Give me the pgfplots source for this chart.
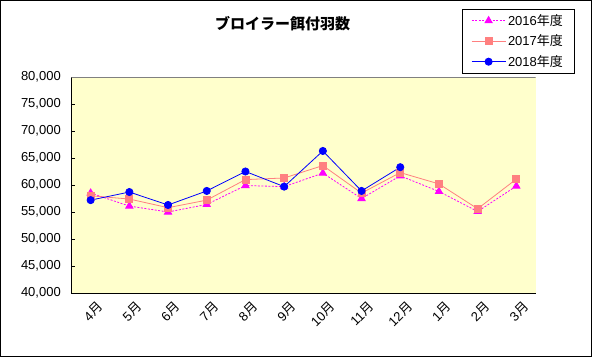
\documentclass[border=0pt]{standalone}
\usepackage{pgfplots}
\pgfplotsset{compat=1.18}
\usepackage{fontspec}
\setmainfont{Liberation Sans}
\newfontfamily\jp{Noto Sans CJK JP}
\definecolor{bgy}{HTML}{FFFFCC}
\definecolor{c16}{HTML}{FF00FF}
\definecolor{c17}{HTML}{FF8080}
\definecolor{c18}{HTML}{0000FF}
\begin{document}
\begin{tikzpicture}[x=1pt,y=1pt]
\useasboundingbox (0,0) rectangle (592,357);
\draw[black, line width=1pt] (0.5,0.5) rectangle (591.5,356.5);
\node[font=\jp\bfseries\fontsize{15}{18}\selectfont] at (282.5,333.5) {ブロイラー餌付羽数};
\begin{axis}[
  at={(71.3pt,64pt)}, anchor=south west,
  scale only axis, width=464.4pt, height=216pt,
  axis lines=left, axis line style={-, black},
  axis background/.style={fill=bgy},
  xmin=-0.5, xmax=11.5, ymin=40000, ymax=80000,
  ytick={40000,45000,...,80000},
  xtick={0,...,11},
  xticklabels={4{\jp 月},5{\jp 月},6{\jp 月},7{\jp 月},8{\jp 月},9{\jp 月},10{\jp 月},11{\jp 月},12{\jp 月},1{\jp 月},2{\jp 月},3{\jp 月}},
  x tick style={draw=none},
  minor xtick={0.5,1.5,...,10.5},
  minor x tick style={black},
  minor tick length=4pt,
  major tick length=4pt,
  tick align=inside,
  y tick style={black},
  scaled y ticks=false,
  /pgf/number format/assume math mode=true,
  yticklabel={\pgfmathprintnumber[fixed,1000 sep={,}]{\tick}},
  yticklabel style={font=\fontsize{13}{15}\selectfont, xshift=-7pt},
  xticklabel style={font=\fontsize{13}{15}\selectfont, rotate=45, anchor=east, inner sep=0pt, yshift=-15pt, xshift=-1pt},
  legend style={at={(axis description cs:0.8413,1.3134)}, anchor=north west,
    font=\fontsize{13}{15}\selectfont, draw=black, fill=white,
    inner xsep=9pt, inner ysep=3pt, row sep=4pt,
    nodes={inner xsep=2pt}},
  legend cell align=left,
  legend image code/.code={\draw[mark repeat=2,mark phase=2,#1] plot coordinates {(0pt,0pt) (17pt,0pt) (34pt,0pt)};},
]
\addplot[c16, line width=0.8pt, dash pattern=on 2pt off 1.5pt, mark=triangle*, mark size=4.2pt, mark options={solid, fill=c16}]
 coordinates {(0,58500) (1,56100) (2,55000) (3,56400) (4,59900) (5,59700) (6,62200) (7,57500) (8,61700) (9,58800) (10,55100) (11,59800)};
\addlegendentry{2016{\jp 年度}}
\addplot[c17, line width=0.8pt, mark=square*, mark size=3.5pt, mark options={fill=c17}]
 coordinates {(0,58000) (1,57400) (2,55800) (3,57200) (4,61000) (5,61300) (6,63600) (7,58500) (8,62300) (9,60200) (10,55600) (11,61100)};
\addlegendentry{2017{\jp 年度}}
\addplot[c18, line width=0.8pt, mark=*, mark size=3.6pt, mark options={fill=c18}]
 coordinates {(0,57200) (1,58700) (2,56300) (3,58900) (4,62500) (5,59700) (6,66300) (7,58900) (8,63300)};
\addlegendentry{2018{\jp 年度}}
\draw[gray] (rel axis cs:0,1) -- (rel axis cs:1,1) -- (rel axis cs:1,0);
\end{axis}
\end{tikzpicture}
\end{document}
